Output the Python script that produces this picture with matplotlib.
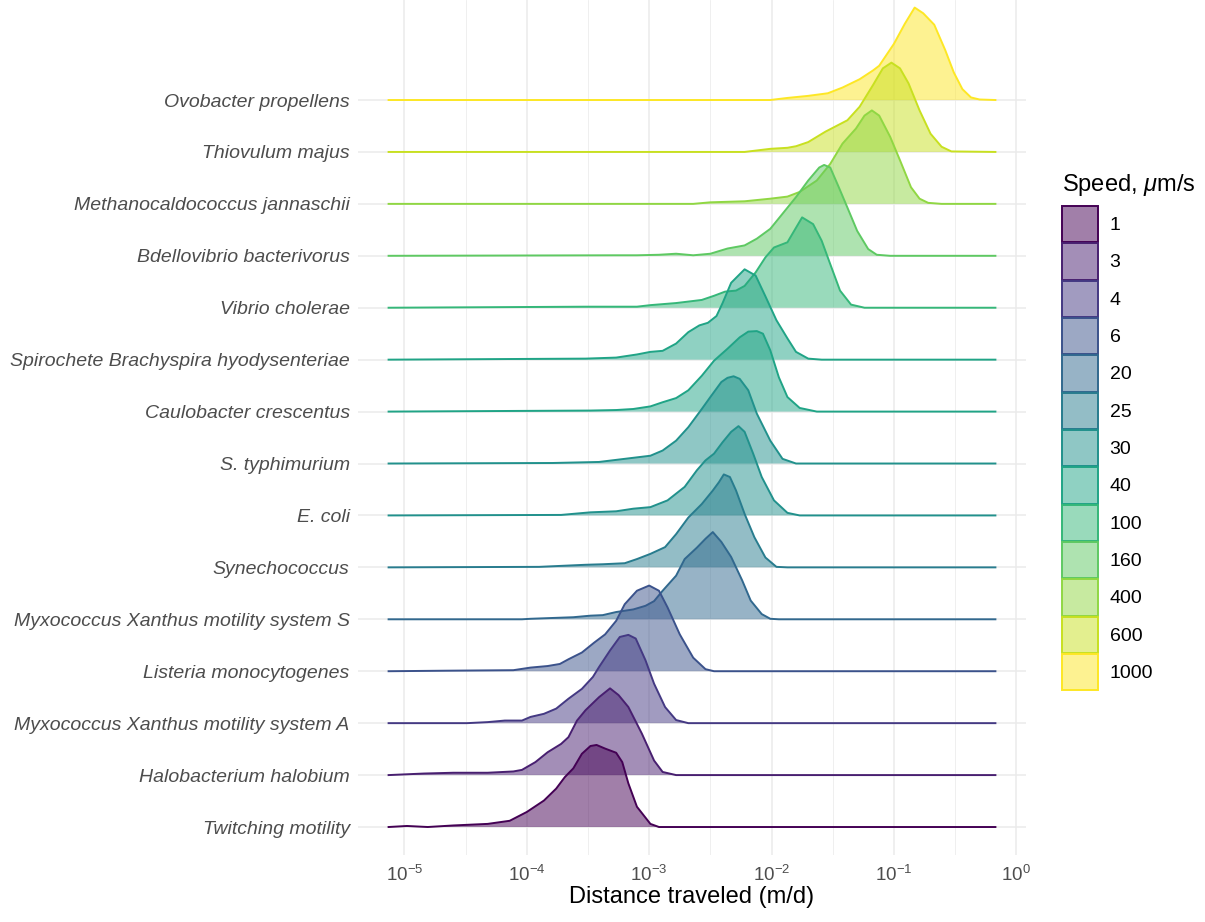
import matplotlib.pyplot as plt
import numpy as np
from matplotlib.patches import Patch
from matplotlib.ticker import FixedLocator, NullFormatter

plt.rcParams['font.family'] = ['Liberation Sans', 'DejaVu Sans']
plt.rcParams['mathtext.fontset'] = 'custom'
plt.rcParams['mathtext.rm'] = 'Liberation Sans'
plt.rcParams['mathtext.it'] = 'Liberation Sans:italic'

# speed levels shown in the legend (um/s)
levels = [1, 3, 4, 6, 20, 25, 30, 40, 100, 160, 400, 600, 1000]

# rows, bottom to top
species = ["Twitching motility", "Halobacterium halobium",
           "Myxococcus Xanthus motility system A", "Listeria monocytogenes",
           "Myxococcus Xanthus motility system S", "Synechococcus", "E. coli",
           "S. typhimurium", "Caulobacter crescentus",
           "Spirochete Brachyspira hyodysenteriae", "Vibrio cholerae",
           "Bdellovibrio bacterivorus", "Methanocaldococcus jannaschii",
           "Thiovulum majus", "Ovobacter propellens"]
speeds = [1, 3, 4, 6, 20, 25, 30, 30, 40, 40, 100, 160, 400, 600, 1000]

# ridge outlines
# x: log10 distance (m/d), h: ridge height in row units
twitching_x = [-5.13, -4.98, -4.81, -4.60, -4.32, -4.14, -4.00, -3.86, -3.76, -3.69, -3.62, -3.55,
               -3.48, -3.43, -3.36, -3.27, -3.22, -3.17, -3.10, -2.99, -2.92, -0.17]
twitching_h = [0, 0.02, 0.0, 0.03, 0.06, 0.12, 0.29, 0.51, 0.74, 0.96, 1.13, 1.41,
               1.56, 1.58, 1.51, 1.43, 1.25, 0.84, 0.39, 0.06, 0, 0]

halo_x = [-5.13, -4.84, -4.60, -4.32, -4.11, -4.04, -3.93, -3.83, -3.72, -3.66, -3.59, -3.52,
          -3.41, -3.32, -3.25, -3.17, -3.06, -2.96, -2.89, -2.78, -0.17]
halo_h = [0, 0.03, 0.045, 0.045, 0.07, 0.10, 0.25, 0.44, 0.60, 0.73, 1.05, 1.25,
          1.50, 1.67, 1.54, 1.31, 0.80, 0.28, 0.06, 0, 0]

myxo_a_x = [-5.13, -4.49, -4.32, -4.18, -4.04, -3.97, -3.86, -3.76, -3.66, -3.55, -3.46, -3.41,
            -3.32, -3.24, -3.17, -3.11, -3.03, -2.96, -2.87, -2.78, -2.68, -0.17]
myxo_a_h = [0, 0, 0.02, 0.05, 0.05, 0.12, 0.18, 0.28, 0.47, 0.66, 0.89, 1.08,
            1.40, 1.66, 1.70, 1.63, 1.21, 0.76, 0.31, 0.06, 0, 0]

listeria_x = [-5.13, -4.67, -4.11, -3.97, -3.83, -3.73, -3.66, -3.55, -3.45, -3.36, -3.27, -3.20,
              -3.10, -3.00, -2.92, -2.85, -2.75, -2.64, -2.54, -2.47, -0.17]
listeria_h = [0, 0.01, 0.02, 0.07, 0.10, 0.14, 0.23, 0.36, 0.55, 0.71, 0.97, 1.29,
              1.55, 1.65, 1.55, 1.23, 0.71, 0.26, 0.04, 0, 0]

myxo_s_x = [-5.13, -4.04, -3.97, -3.62, -3.48, -3.38, -3.27, -3.13, -3.03, -2.96, -2.89, -2.78,
            -2.71, -2.61, -2.54, -2.48, -2.41, -2.33, -2.24, -2.17, -2.08, -2.01, -1.94, -0.17]
myxo_s_h = [0, 0, 0.01, 0.04, 0.07, 0.08, 0.14, 0.19, 0.26, 0.35, 0.55, 0.84,
            1.16, 1.38, 1.55, 1.68, 1.49, 1.20, 0.75, 0.36, 0.10, 0.01, 0, 0]

synecho_x = [-5.13, -3.90, -3.52, -3.38, -3.20, -3.10, -2.99, -2.87, -2.78, -2.68, -2.57, -2.48,
             -2.43, -2.39, -2.34, -2.29, -2.22, -2.14, -2.05, -1.96, -1.87, -0.17]
synecho_h = [0, 0.01, 0.05, 0.06, 0.08, 0.16, 0.26, 0.39, 0.64, 0.96, 1.22, 1.48,
             1.64, 1.79, 1.74, 1.48, 1.03, 0.58, 0.19, 0.01, 0, 0]

ecoli_x = [-5.13, -3.72, -3.48, -3.27, -3.13, -2.99, -2.85, -2.71, -2.61, -2.54, -2.47, -2.40,
           -2.33, -2.27, -2.22, -2.15, -2.08, -1.98, -1.87, -1.77, -0.17]
ecoli_h = [0, 0.01, 0.06, 0.08, 0.13, 0.16, 0.29, 0.55, 0.87, 1.06, 1.19, 1.41,
           1.61, 1.72, 1.61, 1.19, 0.74, 0.29, 0.05, 0, 0]

styph_x = [-5.13, -3.79, -3.41, -3.27, -2.99, -2.89, -2.78, -2.68, -2.57, -2.50, -2.41, -2.36,
           -2.31, -2.26, -2.19, -2.12, -2.01, -1.91, -1.80, -0.17]
styph_h = [0, 0.01, 0.03, 0.07, 0.15, 0.25, 0.44, 0.70, 1.05, 1.28, 1.57, 1.65,
           1.68, 1.63, 1.41, 0.96, 0.44, 0.09, 0, 0]

caulo_x = [-5.13, -3.48, -3.27, -3.13, -2.99, -2.89, -2.78, -2.68, -2.57, -2.47, -2.36, -2.26,
           -2.19, -2.12, -2.07, -2.01, -1.94, -1.87, -1.77, -1.63, -0.17]
caulo_h = [0, 0.02, 0.03, 0.05, 0.10, 0.18, 0.26, 0.41, 0.69, 0.98, 1.21, 1.43,
           1.54, 1.55, 1.50, 1.18, 0.66, 0.28, 0.07, 0, 0]

spiro_x = [-5.13, -3.52, -3.27, -3.10, -2.99, -2.89, -2.78, -2.68, -2.59, -2.52, -2.45, -2.40,
           -2.33, -2.22, -2.13, -2.05, -1.96, -1.87, -1.80, -1.70, -1.59, -0.17]
spiro_h = [0, 0.02, 0.04, 0.10, 0.15, 0.17, 0.31, 0.53, 0.66, 0.71, 0.84, 1.09,
           1.48, 1.74, 1.62, 1.22, 0.76, 0.41, 0.15, 0.02, 0, 0]

vibrio_x = [-5.13, -3.52, -3.10, -2.99, -2.78, -2.57, -2.47, -2.38, -2.29, -2.22, -2.13, -2.05,
            -1.98, -1.87, -1.75, -1.66, -1.59, -1.52, -1.44, -1.35, -1.24, -0.17]
vibrio_h = [0, 0.02, 0.02, 0.05, 0.09, 0.15, 0.23, 0.31, 0.33, 0.42, 0.68, 0.97,
            1.16, 1.26, 1.74, 1.61, 1.29, 0.84, 0.33, 0.06, 0, 0]

bdello_x = [-5.13, -3.27, -3.10, -2.92, -2.78, -2.64, -2.50, -2.36, -2.22, -2.12, -2.01, -1.91,
            -1.80, -1.70, -1.61, -1.57, -1.52, -1.45, -1.38, -1.30, -1.21, -1.14, -1.03, -0.17]
bdello_h = [0, 0.01, 0.01, 0.02, 0.04, 0.01, 0.04, 0.14, 0.20, 0.33, 0.52, 0.81,
            1.13, 1.45, 1.70, 1.75, 1.70, 1.32, 0.93, 0.48, 0.13, 0.02, 0, 0]

methano_x = [-5.13, -2.64, -2.50, -2.22, -2.01, -1.87, -1.77, -1.63, -1.52, -1.42, -1.31, -1.24,
             -1.18, -1.12, -1.03, -0.95, -0.86, -0.79, -0.72, -0.61, -0.17]
methano_h = [0, 0, 0.03, 0.05, 0.10, 0.14, 0.23, 0.45, 0.77, 1.16, 1.45, 1.70,
             1.80, 1.70, 1.29, 0.84, 0.32, 0.10, 0.02, 0, 0]

thio_x = [-5.13, -2.22, -2.15, -2.01, -1.87, -1.80, -1.70, -1.56, -1.38, -1.28, -1.17, -1.09,
          -1.02, -0.95, -0.88, -0.79, -0.70, -0.61, -0.53, -0.17]
thio_h = [0, 0, 0.02, 0.06, 0.08, 0.11, 0.19, 0.39, 0.61, 0.87, 1.29, 1.61,
          1.72, 1.61, 1.32, 0.80, 0.35, 0.10, 0.01, 0]

ovo_x = [-5.13, -2.01, -1.87, -1.70, -1.54, -1.42, -1.28, -1.17, -1.12, -1.00, -0.91, -0.83,
         -0.76, -0.67, -0.58, -0.51, -0.44, -0.37, -0.30, -0.17]
ovo_h = [0, 0, 0.04, 0.08, 0.13, 0.24, 0.40, 0.57, 0.66, 1.08, 1.47, 1.78,
         1.67, 1.45, 0.96, 0.53, 0.21, 0.05, 0.01, 0]

ridges_x = [twitching_x, halo_x, myxo_a_x, listeria_x, myxo_s_x, synecho_x, ecoli_x,
            styph_x, caulo_x, spiro_x, vibrio_x, bdello_x, methano_x, thio_x, ovo_x]
ridges_h = [twitching_h, halo_h, myxo_a_h, listeria_h, myxo_s_h, synecho_h, ecoli_h,
            styph_h, caulo_h, spiro_h, vibrio_h, bdello_h, methano_h, thio_h, ovo_h]

colors = plt.get_cmap('viridis')(np.linspace(0, 1, len(levels)))
n = len(species)

fig = plt.figure(figsize=(12.05, 9.22), dpi=100)
ax = fig.add_axes([358 / 1205, 67 / 922, 668 / 1205, 855 / 922])

# top ridges first so lower ones sit in front
for i in reversed(range(n)):
    x = 10 ** np.array(ridges_x[i])
    y = i + 1 + np.array(ridges_h[i])
    col = colors[levels.index(speeds[i])]
    z = 10 + (n - i) * 2
    ax.fill_between(x, i + 1, y, facecolor=col, alpha=0.5, lw=0, zorder=z)
    ax.plot(x, y, color=col, lw=1.4, zorder=z + 1, solid_joinstyle='round')

ax.set_xscale('log')
ax.set_xlim(10 ** -5.38, 10 ** 0.08)
ax.set_ylim(0.461, 16.926)
ax.xaxis.set_major_locator(FixedLocator([10.0 ** k for k in range(-5, 1)]))
ax.xaxis.set_minor_locator(FixedLocator([10.0 ** (k + 0.5) for k in range(-6, 0)]))
ax.xaxis.set_minor_formatter(NullFormatter())
ax.set_yticks(range(1, n + 1))
ax.set_yticklabels(species, fontstyle='italic')

for s in ax.spines.values():
    s.set_visible(False)
ax.tick_params(axis='both', which='both', length=0)
ax.tick_params(axis='y', labelsize=14, labelcolor='#4d4d4d', pad=6)
ax.tick_params(axis='x', labelsize=13.5, labelcolor='#4d4d4d', pad=7)
ax.grid(True, which='major', color='#ebebeb', lw=1.1, zorder=0)
ax.grid(True, which='minor', axis='x', color='#ebebeb', lw=0.55, zorder=0)
ax.set_axisbelow(True)
ax.set_xlabel('Distance traveled (m/d)', fontsize=17, labelpad=1)

# legend: title as its own text so the gap above the keys matches
fig.text(1062 / 1205, 1 - 185 / 922, 'Speed, $\\mu$m/s', fontsize=17,
         ha='left', va='center')
handles = []
for lev, col in zip(levels, colors):
    fc = (col[0], col[1], col[2], 0.5)
    handles.append(Patch(facecolor=fc, edgecolor=col, lw=1.4, label=str(lev)))
leg = fig.legend(handles=handles, loc='upper left',
                 bbox_to_anchor=(1062 / 1205, 1 - 206 / 922), frameon=False,
                 fontsize=14, handlelength=1.85, handleheight=2.5,
                 labelspacing=0.05, handletextpad=0.6, borderpad=0, borderaxespad=0)

fig.savefig('out.png', dpi=100)
